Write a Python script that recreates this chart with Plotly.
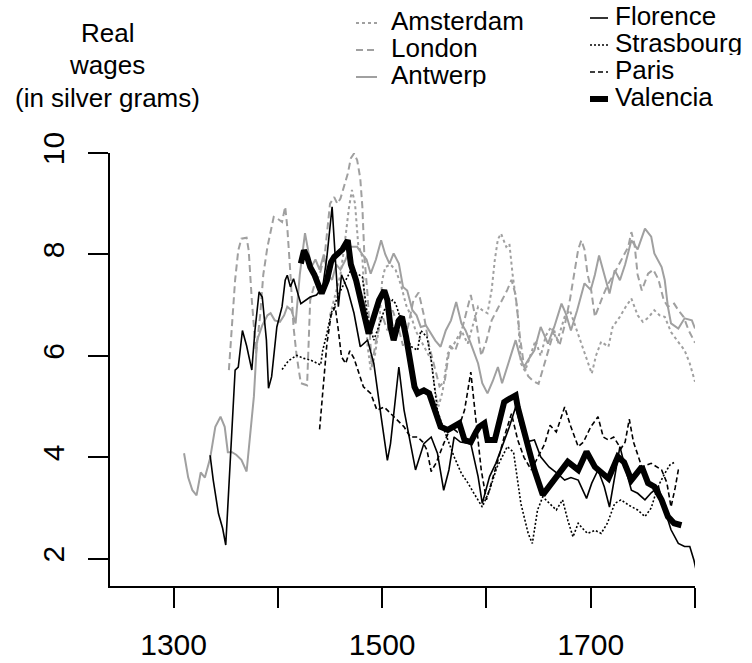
import plotly.graph_objects as go

# ---------------- data ----------------
antwerp_years = [1310, 1314, 1318, 1322, 1326, 1330, 1335, 1340, 1345, 1349, 1352, 1356, 1360, 1365, 1370,
                 1373, 1377, 1380, 1385, 1390, 1393, 1397, 1402, 1406, 1409, 1413, 1417, 1421, 1426, 1429,
                 1432, 1436, 1440, 1444, 1448, 1452, 1456, 1460, 1465, 1470, 1476, 1481, 1485, 1489, 1494,
                 1499, 1503, 1507, 1511, 1516, 1520, 1524, 1529, 1533, 1537, 1542, 1547, 1551, 1556, 1561,
                 1566, 1571, 1576, 1580, 1585, 1592, 1596, 1601, 1606, 1611, 1615, 1620, 1625, 1628, 1632,
                 1636, 1641, 1646, 1652, 1659, 1665, 1672, 1676, 1681, 1687, 1694, 1700, 1704, 1708, 1713,
                 1718, 1723, 1728, 1733, 1739, 1745, 1752, 1758, 1761, 1768, 1771, 1774, 1777, 1784, 1790,
                 1797, 1800]
antwerp_vals = [4.08, 3.6, 3.35, 3.25, 3.7, 3.6, 3.98, 4.6, 4.8, 4.6, 4.1, 4.1, 4.05, 3.95, 3.72,
                4.3, 5.2, 6.3, 6.6, 6.8, 6.84, 6.7, 6.67, 6.8, 6.97, 6.9, 6.64, 7.6, 8.42, 8.08,
                7.75, 7.9, 7.7, 8.0, 7.6, 7.5, 7.8, 7.7, 7.9, 8.15, 8.15, 8.0, 7.9, 7.62, 7.9,
                8.28, 8.0, 7.82, 8.02, 7.82, 7.36, 7.29, 6.9, 6.8, 6.57, 6.6, 6.44, 6.3, 6.18, 6.5,
                6.7, 7.06, 6.64, 6.5, 6.24, 5.85, 5.46, 5.26, 5.5, 5.78, 5.46, 5.8, 6.1, 6.31, 6.0,
                5.78, 5.95, 6.11, 6.57, 6.24, 6.57, 7.03, 6.84, 6.5, 6.9, 7.43, 7.3, 7.6, 7.98, 7.62,
                7.23, 7.69, 7.49, 7.8, 8.28, 8.1, 8.51, 8.35, 8.02, 7.75, 7.49, 6.97, 6.64, 6.54, 6.74,
                6.7, 6.54]

london_years = [1353, 1356, 1359, 1362, 1365, 1370, 1372, 1375, 1377, 1379, 1383, 1386, 1390, 1396, 1400,
                1404, 1407, 1409, 1412, 1415, 1418, 1422, 1428, 1431, 1435, 1440, 1445, 1450, 1454, 1457,
                1460, 1463, 1467, 1470, 1473, 1476, 1479, 1481, 1483, 1486, 1490, 1495, 1500, 1505, 1510,
                1515, 1520, 1525, 1530, 1535, 1540, 1545, 1550, 1555, 1560, 1565, 1570, 1575, 1580, 1585,
                1590, 1595, 1600, 1605, 1610, 1615, 1620, 1624, 1628, 1632, 1636, 1640, 1645, 1650, 1655,
                1660, 1665, 1670, 1675, 1680, 1685, 1688, 1691, 1694, 1697, 1700, 1704, 1708, 1712, 1717,
                1722, 1727, 1732, 1736, 1739, 1742, 1745, 1749, 1755, 1760, 1765, 1770, 1774, 1780, 1784,
                1789, 1794, 1800]
london_vals = [5.72, 6.6, 7.5, 8.08, 8.31, 8.33, 8.08, 7.1, 6.5, 6.05, 6.8, 7.6, 8.15, 8.74, 8.7,
               8.64, 8.94, 8.54, 7.62, 6.57, 6.0, 5.46, 5.42, 7.1, 7.4, 7.6, 8.0, 9.0, 9.13, 9.0,
               9.1, 9.3, 9.59, 9.9, 9.99, 9.86, 9.5, 8.94, 7.95, 7.2, 5.8, 6.4, 6.8, 6.5, 6.9,
               6.6, 6.2, 6.6, 7.1, 7.25, 6.8, 6.2, 5.8, 5.4, 5.5, 6.2, 6.1, 6.4, 6.8, 7.2,
               6.7, 6.0, 6.3, 6.7, 6.9, 7.1, 7.3, 7.5, 7.2, 6.4, 5.8, 5.6, 5.5, 5.45, 5.8,
               6.1, 6.5, 6.2, 6.6, 7.1, 7.7, 8.1, 8.28, 8.1, 7.6, 7.36, 6.77, 7.0, 7.2, 7.43,
               7.6, 7.8, 8.0, 8.15, 8.44, 8.2, 7.6, 7.29, 7.62, 7.7, 7.5, 7.1, 6.97, 7.03, 6.9,
               6.77, 6.5, 6.26]

amsterdam_years = [1450, 1455, 1460, 1464, 1468, 1471, 1474, 1477, 1481, 1483, 1486, 1489, 1493, 1497, 1500,
                   1503, 1508, 1513, 1518, 1523, 1528, 1532, 1537, 1542, 1547, 1550, 1554, 1558, 1563, 1568,
                   1576, 1582, 1587, 1592, 1596, 1601, 1605, 1608, 1611, 1614, 1619, 1622, 1625, 1630, 1633,
                   1637, 1642, 1647, 1652, 1657, 1662, 1668, 1675, 1680, 1685, 1690, 1695, 1701, 1705, 1710,
                   1717, 1721, 1728, 1733, 1739, 1745, 1750, 1755, 1761, 1766, 1771, 1777, 1783, 1790, 1795,
                   1800]
amsterdam_vals = [6.8, 7.2, 7.6, 8.2, 8.9, 9.27, 9.0, 8.2, 7.95, 7.16, 6.2, 5.72, 6.0, 6.57, 7.49,
                  7.75, 7.8, 7.69, 7.4, 7.0, 6.77, 6.5, 6.3, 6.11, 5.92, 5.4, 5.0, 5.3, 6.05, 6.2,
                  6.5, 6.24, 6.6, 6.97, 6.9, 6.84, 7.3, 7.89, 8.3, 8.41, 8.15, 8.21, 7.62, 6.84, 5.85,
                  5.7, 6.0, 6.3, 6.0, 6.4, 6.57, 6.3, 6.77, 6.9, 6.6, 6.3, 6.0, 5.65, 6.0, 6.28,
                  6.18, 6.57, 6.77, 6.95, 7.13, 6.8, 6.67, 6.75, 6.9, 6.8, 6.77, 6.47, 6.3, 6.11, 5.85,
                  5.49]

florence_years = [1335, 1338, 1343, 1347, 1350, 1354, 1359, 1362, 1366, 1370, 1375, 1378, 1382, 1385, 1389,
                  1391, 1394, 1399, 1404, 1407, 1409, 1412, 1415, 1422, 1431, 1437, 1443, 1447, 1452, 1455,
                  1458, 1461, 1467, 1473, 1479, 1486, 1492, 1499, 1505, 1508, 1516, 1521, 1527, 1532, 1540,
                  1547, 1553, 1559, 1564, 1569, 1575, 1585, 1592, 1596, 1603, 1609, 1615, 1622, 1628, 1633,
                  1638, 1646, 1652, 1660, 1667, 1675, 1681, 1688, 1696, 1701, 1707, 1713, 1718, 1723, 1728,
                  1733, 1739, 1745, 1752, 1758, 1765, 1771, 1777, 1784, 1790, 1795, 1799, 1801]
florence_vals = [4.04, 3.55, 2.89, 2.6, 2.27, 3.88, 5.72, 5.78, 6.5, 6.2, 5.72, 6.5, 7.26, 7.16, 6.31,
                 5.36, 5.59, 6.57, 6.97, 7.49, 7.59, 7.36, 7.52, 7.03, 7.16, 7.2, 7.36, 7.95, 8.94, 7.95,
                 6.97, 7.6, 7.3, 6.84, 6.18, 6.31, 5.85, 4.8, 3.94, 4.27, 5.78, 4.93, 4.27, 3.75, 4.27,
                 4.4, 4.08, 3.35, 3.75, 4.4, 4.3, 4.27, 3.62, 3.09, 3.62, 3.88, 4.21, 4.6, 4.99, 4.6,
                 4.3, 4.34, 4.01, 3.81, 3.7, 3.55, 3.6, 3.55, 3.19, 3.49, 3.75, 3.42, 3.02, 3.6, 4.21,
                 3.8, 3.35, 3.29, 3.16, 3.3, 3.42, 2.96, 2.57, 2.3, 2.24, 2.24, 1.97, 1.78]

strasbourg_years = [1404, 1410, 1418, 1425, 1431, 1437, 1441, 1443, 1447, 1451, 1454, 1457, 1463, 1470, 1476,
                    1481, 1486, 1492, 1497, 1502, 1506, 1510, 1513, 1518, 1523, 1528, 1534, 1537, 1543, 1547,
                    1550, 1553, 1556, 1563, 1569, 1576, 1582, 1588, 1596, 1603, 1610, 1620, 1626, 1633, 1640,
                    1644, 1649, 1654, 1660, 1667, 1673, 1678, 1683, 1688, 1692, 1697, 1704, 1710, 1716, 1723,
                    1729, 1737, 1745, 1752, 1758, 1764, 1771, 1776, 1780]
strasbourg_vals = [5.73, 5.9, 6.01, 5.95, 5.92, 5.85, 5.82, 6.11, 6.44, 6.84, 6.97, 7.16, 7.4, 7.69, 7.62,
                   7.56, 6.77, 6.31, 6.6, 6.9, 7.0, 7.1, 7.03, 6.7, 6.37, 6.18, 6.11, 6.5, 6.37, 5.92,
                   5.39, 4.93, 4.73, 4.34, 4.01, 3.68, 3.5, 3.29, 3.02, 3.35, 3.8, 4.21, 4.1, 3.09, 2.5,
                   2.3, 2.96, 3.22, 3.1, 2.96, 3.16, 2.76, 2.43, 2.7, 2.6, 2.5, 2.56, 2.5, 2.7, 3.09,
                   3.16, 3.05, 2.96, 2.83, 3.0, 3.4, 3.68, 3.85, 3.9]

paris_years = [1440, 1444, 1447, 1451, 1455, 1458, 1461, 1465, 1469, 1473, 1477, 1482, 1489, 1495, 1502,
               1511, 1516, 1521, 1527, 1534, 1539, 1543, 1547, 1552, 1559, 1566, 1572, 1579, 1582, 1585,
               1588, 1590, 1595, 1600, 1605, 1611, 1617, 1624, 1630, 1636, 1643, 1649, 1656, 1661, 1667,
               1675, 1681, 1688, 1693, 1700, 1707, 1712, 1717, 1722, 1729, 1733, 1737, 1741, 1749, 1758,
               1768, 1773, 1777, 1781, 1784, 1787]
paris_vals = [4.55, 5.5, 6.24, 6.8, 6.97, 6.5, 5.98, 5.85, 6.1, 5.95, 5.7, 5.39, 5.26, 4.93, 4.99,
              4.8, 4.7, 4.6, 4.4, 4.4, 4.3, 4.14, 3.72, 3.9, 4.27, 4.6, 4.5, 4.93, 5.3, 5.68,
              5.1, 4.73, 3.75, 3.16, 3.5, 3.94, 4.4, 4.86, 4.34, 4.0, 3.75, 4.0, 4.27, 4.63, 4.5,
              4.99, 4.6, 4.21, 4.3, 4.6, 4.8, 4.4, 4.34, 4.4, 4.17, 4.3, 4.75, 4.3, 3.81, 3.88,
              3.75, 3.5, 3.02, 3.4, 3.75, 3.78]

valencia_years = [1422, 1425, 1428, 1431, 1435, 1439, 1442, 1447, 1451, 1454, 1458, 1462, 1467, 1470, 1475,
                  1479, 1484, 1487, 1492, 1497, 1502, 1505, 1508, 1511, 1516, 1519, 1523, 1527, 1531, 1534,
                  1540, 1545, 1550, 1556, 1563, 1569, 1574, 1579, 1585, 1590, 1593, 1598, 1601, 1608, 1614,
                  1617, 1620, 1625, 1628, 1630, 1635, 1640, 1646, 1654, 1660, 1668, 1678, 1688, 1696, 1704,
                  1710, 1717, 1726, 1732, 1739, 1749, 1755, 1761, 1768, 1774, 1780, 1787]
valencia_vals = [7.82, 8.08, 7.95, 7.75, 7.6, 7.36, 7.23, 7.49, 7.85, 7.95, 8.02, 8.1, 8.28, 7.8, 7.49,
                 7.16, 6.77, 6.44, 6.77, 7.1, 7.29, 7.1, 6.57, 6.31, 6.7, 6.77, 6.37, 5.85, 5.39, 5.26,
                 5.32, 5.26, 4.93, 4.6, 4.54, 4.6, 4.67, 4.34, 4.3, 4.5, 4.6, 4.67, 4.34, 4.34, 4.93,
                 5.09, 5.13, 5.19, 5.22, 4.99, 4.54, 4.21, 3.75, 3.26, 3.42, 3.65, 3.91, 3.75, 4.11, 3.81,
                 3.7, 3.58, 4.01, 3.9, 3.55, 3.81, 3.49, 3.42, 3.16, 2.83, 2.7, 2.66]

x_tick_vals = [1300, 1400, 1500, 1600, 1700, 1800]
x_tick_text = ["1300", "", "1500", "", "1700", ""]
y_tick_vals = [2, 4, 6, 8, 10]
y_tick_text = ["2", "4", "6", "8", "10"]
title_lines = ["Real", "wages", "(in silver grams)"]

GREY = "#a0a0a0"
series = [
    ("Amsterdam", amsterdam_years, amsterdam_vals, GREY, 2, "3px,3px"),
    ("London", london_years, london_vals, GREY, 2, "7px,4px"),
    ("Antwerp", antwerp_years, antwerp_vals, GREY, 2, "solid"),
    ("Florence", florence_years, florence_vals, "black", 1.6, "solid"),
    ("Strasbourg", strasbourg_years, strasbourg_vals, "black", 1.6, "2px,2px"),
    ("Paris", paris_years, paris_vals, "black", 1.6, "5px,3px"),
    ("Valencia", valencia_years, valencia_vals, "black", 6, "solid"),
]

FONT = "Liberation Sans, Arial, Helvetica, sans-serif"
W, H = 752, 663
L, R, T, B = 110, 57, 153, 77
PW, PH = W - L - R, H - T - B

def px2paper_x(px):
    return (px - L) / PW

def px2paper_y(py):
    return (H - B - py) / PH

fig = go.Figure()
for name, xs, ys, col, lw, dash in series:
    fig.add_trace(go.Scatter(x=xs, y=ys, mode="lines", name=name,
                             line=dict(color=col, width=lw, dash=dash),
                             showlegend=False, hoverinfo="skip"))

fig.update_layout(
    width=W, height=H,
    margin=dict(l=L, r=R, t=T, b=B, pad=0, autoexpand=False),
    paper_bgcolor="white", plot_bgcolor="white",
    font=dict(family=FONT, color="black"),
    showlegend=False,
)
fig.update_xaxes(range=[1239, 1800], showgrid=False, zeroline=False, automargin=False,
                 showline=True, linecolor="black", linewidth=2,
                 tickmode="array", tickvals=x_tick_vals, ticktext=x_tick_text,
                 ticks="outside", ticklen=20, tickwidth=2, tickcolor="black",
                 tickfont=dict(size=30, family=FONT), ticklabelstandoff=11)
fig.update_yaxes(range=[1.462, 10], showgrid=False, zeroline=False, automargin=False,
                 showline=True, linecolor="black", linewidth=2,
                 tickmode="array", tickvals=y_tick_vals, ticktext=y_tick_text,
                 ticks="outside", ticklen=20, tickwidth=2, tickcolor="black",
                 tickangle=-90, tickfont=dict(size=30, family=FONT), ticklabelstandoff=12)

# title (three lines, centred)
for txt, py in zip(title_lines, [33, 65, 98]):
    fig.add_annotation(text=txt, xref="paper", yref="paper",
                       x=px2paper_x(107), y=px2paper_y(py), xanchor="center", yanchor="middle",
                       height=28, showarrow=False, font=dict(size=26, family=FONT, color="black"))

# legend built from series definitions
legend_pos = {
    "Amsterdam": (356, 377, 389, 21), "London": (356, 377, 389, 48), "Antwerp": (356, 377, 389, 75),
    "Florence": (590, 608, 613, 16), "Strasbourg": (590, 608, 613, 43),
    "Paris": (590, 608, 613, 70), "Valencia": (590, 608, 613, 97),
}
for name, xs, ys, col, lw, dash in series:
    x0, x1, xt, yc = legend_pos[name]
    fig.add_shape(type="line", xref="paper", yref="paper",
                  x0=px2paper_x(x0), x1=px2paper_x(x1), y0=px2paper_y(yc + 2), y1=px2paper_y(yc + 2),
                  line=dict(color=col, width=lw, dash=dash))
    fig.add_annotation(text=name, xref="paper", yref="paper",
                       x=px2paper_x(xt), y=px2paper_y(yc), xanchor="left", yanchor="middle",
                       height=24, showarrow=False, font=dict(size=26, family=FONT, color="black"))

fig.write_html("out.html", config={"displayModeBar": False},
               post_script="document.body.style.margin='0';document.body.style.padding='0';")
